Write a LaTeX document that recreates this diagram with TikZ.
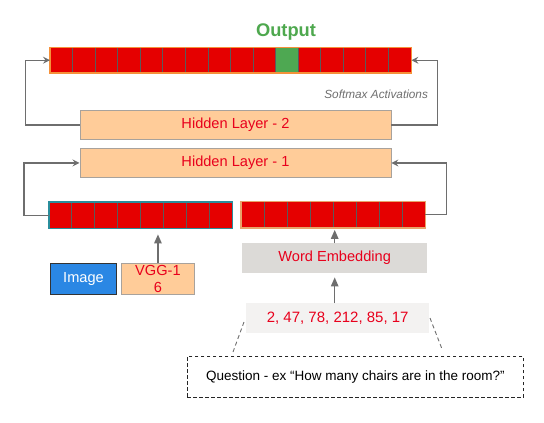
\documentclass[tikz,border=0pt]{standalone}
\usepackage{fontspec}
\setmainfont{Liberation Sans}
\usetikzlibrary{arrows.meta,calc}
\definecolor{cellred}{HTML}{E50000}
\definecolor{cellline}{HTML}{5A5A5A}
\definecolor{cellgreen}{HTML}{4EA852}
\definecolor{outgreen}{HTML}{4EA84E}
\definecolor{outorange}{HTML}{F5913A}
\definecolor{tealb}{HTML}{2A8E9C}
\definecolor{tanb}{HTML}{E8A36A}
\definecolor{peach}{HTML}{FFCC99}
\definecolor{peachb}{HTML}{A8A29C}
\definecolor{txtred}{HTML}{E8001C}
\definecolor{imgblue}{HTML}{2A87E4}
\definecolor{embgray}{HTML}{DCDAD7}
\definecolor{numgray}{HTML}{F3F2F1}
\definecolor{conngray}{HTML}{6E6E6E}
\begin{document}
\begin{tikzpicture}[x=1pt,y=-1pt,
  txt/.style={font=\fontsize{14.6}{16}\selectfont},
  bar/.style={rectangle,inner sep=0pt,anchor=north west},
  layer/.style={rectangle,inner sep=0pt,anchor=north west,fill=peach,draw=peachb,line width=0.9pt,txt,text=txtred},
  conn/.style={draw=conngray,line width=1.1pt,-{Stealth[length=7pt,width=7pt,inset=2.5pt]}},
  uparrow/.style={draw=conngray,line width=1.3pt,-{Triangle[length=9pt,width=7.5pt]}},
  guide/.style={draw=conngray,line width=0.9pt,dash pattern=on 4pt off 3pt}
]
\useasboundingbox (0,0) rectangle (544,423);

% output bar
\node[bar,minimum width=361pt,minimum height=25pt] (out) at (50,47.5) {};
\foreach \i in {0,...,15}{
  \pgfmathsetmacro{\xa}{50+\i*22.5625}
  \pgfmathsetmacro{\xb}{50+(\i+1)*22.5625}
  \ifnum\i=10
    \filldraw[fill=cellgreen,draw=cellline,line width=0.8pt] (\xa,47.5) rectangle (\xb,72.5);
  \else
    \filldraw[fill=cellred,draw=cellline,line width=0.8pt] (\xa,47.5) rectangle (\xb,72.5);
  \fi
}
\draw[outorange,line width=1.6pt] (out.north west) rectangle (out.south east);
\node[font=\fontsize{18.3}{20}\selectfont\bfseries,text=outgreen] (outlbl) at (286,32) {Output};

% hidden layers
\node[layer,minimum width=311pt,minimum height=29pt] (hl2) at (79.5,110) {Hidden Layer - 2};
\node[layer,minimum width=311pt,minimum height=29pt] (hl1) at (79.5,148) {Hidden Layer - 1};
\node[anchor=east,font=\fontsize{11.8}{13}\selectfont\itshape,text=conngray] (soft) at (431.5,94.5) {Softmax Activations};

% input bars
\node[bar,minimum width=183pt,minimum height=26pt] (lbar) at (49,202) {};
\foreach \i in {0,...,7}{
  \pgfmathsetmacro{\xa}{49+\i*22.875}
  \pgfmathsetmacro{\xb}{49+(\i+1)*22.875}
  \filldraw[fill=cellred,draw=cellline,line width=0.8pt] (\xa,202) rectangle (\xb,228);
}
\draw[tealb,line width=1.5pt] (lbar.north west) rectangle (lbar.south east);

\node[bar,minimum width=184pt,minimum height=26pt] (rbar) at (241,201.5) {};
\foreach \i in {0,...,7}{
  \pgfmathsetmacro{\xa}{241+\i*23}
  \pgfmathsetmacro{\xb}{241+(\i+1)*23}
  \filldraw[fill=cellred,draw=cellline,line width=0.8pt] (\xa,201.5) rectangle (\xb,227.5);
}
\draw[tanb,line width=1.3pt] (rbar.north west) rectangle (rbar.south east);

% image & vgg
\node[bar,minimum width=66pt,minimum height=31pt,fill=imgblue,draw=black!80,line width=1pt,txt,text=white] (img) at (50,263) {Image};
\node[bar,minimum width=73pt,minimum height=31pt,fill=peach,draw=peachb,line width=0.9pt,text=txtred,align=center,font=\fontsize{14.6}{16.5}\selectfont] (vgg) at (121,263) {VGG-1\\6};

% word embedding & numbers
\node[bar,minimum width=185pt,minimum height=30pt,fill=embgray,txt,text=txtred] (we) at (242,243) {Word Embedding};
\node[bar,minimum width=183pt,minimum height=30pt,fill=numgray,font=\fontsize{15}{16}\selectfont,text=txtred] (num) at (246,303) {2, 47, 78, 212, 85, 17};

% question
\node[bar,minimum width=336pt,minimum height=41pt,fill=white,draw=black!85,line width=0.9pt,dash pattern=on 3.5pt off 2.5pt,font=\fontsize{13.5}{15}\selectfont] (q) at (187,356) {Question - ex “How many chairs are in the room?”};

% connectors
\draw[conn] (hl2.west) -- ++(-54,0) |- (out.west);
\draw[conn] (hl2.east) -- ++(46,0) |- (out.east);
\draw[conn] (lbar.west) -- ++(-25,0) |- (hl1.west);
\draw[conn] (rbar.east) -- ++(21,0) |- (hl1.east);
\draw[uparrow,shorten >=6pt] (vgg.north) -- (vgg.north |- lbar.south);
\draw[uparrow,shorten >=2pt] (we.north) -- (we.north |- rbar.south);
\draw[uparrow,shorten >=4pt] (num.north -| we.south) -- (we.south);

\coordinate (dl1) at (244,322);
\coordinate (dl2) at (233,352);
\coordinate (dr1) at (430,318);
\coordinate (dr2) at (442,349);
\draw[guide] (dl1) -- (dl2);
\draw[guide] (dr1) -- (dr2);
\end{tikzpicture}
\end{document}
